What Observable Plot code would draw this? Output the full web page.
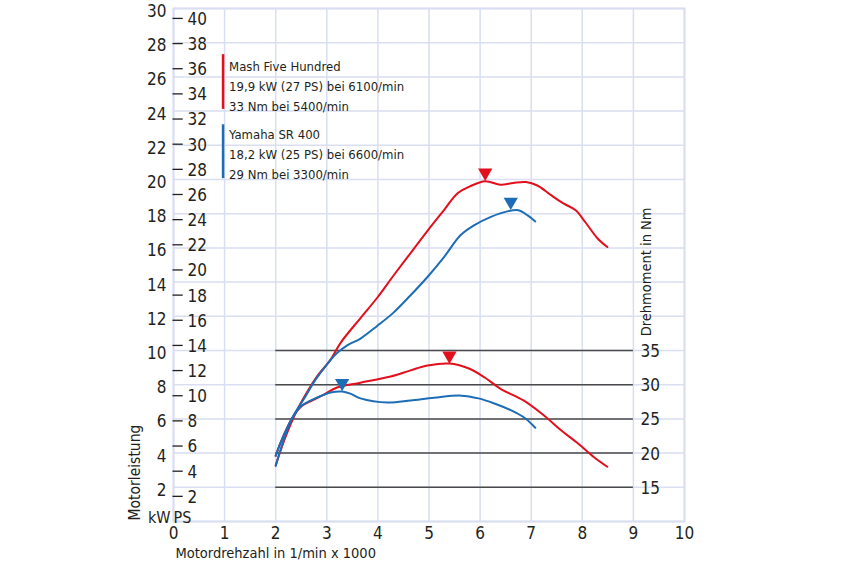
<!DOCTYPE html>
<html>
<head>
<meta charset="utf-8">
<script src="https://cdn.jsdelivr.net/npm/d3@7"></script>
<script src="https://cdn.jsdelivr.net/npm/@observablehq/plot@0.6"></script>
<style>
html, body { margin: 0; padding: 0; background: #ffffff; }
#chart svg { display: block; }
</style>
</head>
<body>
<div id="chart"></div>
<script>
// ---- tick labels ----
const xTicks = [0, 1, 2, 3, 4, 5, 6, 7, 8, 9, 10];
const kwTicks = [2, 4, 6, 8, 10, 12, 14, 16, 18, 20, 22, 24, 26, 28, 30];
const kwGrid = [0, 2, 4, 6, 8, 10, 12, 14, 16, 18, 20, 22, 24, 26, 28, 30];
const psTicks = [2, 4, 6, 8, 10, 12, 14, 16, 18, 20, 22, 24, 26, 28, 30, 32, 34, 36, 38, 40];
const nmTicks = [15, 20, 25, 30, 35];

// ---- texts ----
const xTitle = "Motordrehzahl in 1/min x 1000";
const yTitle = "Motorleistung";
const y2Title = "Drehmoment in Nm";
const mashLegend = ["Mash Five Hundred", "19,9 kW (27 PS) bei 6100/min", "33 Nm bei 5400/min"];
const yamahaLegend = ["Yamaha SR 400", "18,2 kW (25 PS) bei 6600/min", "29 Nm bei 3300/min"];

// ---- series (rpm in 1000/min) ----
const mashPowerRpm = [2.0, 2.2, 2.4, 2.6, 2.8, 3.07, 3.27, 3.66, 3.99, 4.31, 4.64, 4.97, 5.29, 5.56, 5.80, 6.1, 6.4, 6.65, 6.9, 7.12, 7.38, 7.63, 7.87, 8.06, 8.30, 8.49];
const mashPowerKw  = [3.3, 5.0, 6.4, 7.5, 8.45, 9.45, 10.45, 11.9, 13.1, 14.4, 15.7, 17.0, 18.2, 19.2, 19.6, 19.9, 19.7, 19.8, 19.85, 19.65, 19.1, 18.6, 18.2, 17.5, 16.55, 16.05];

const yamahaPowerRpm = [2.0, 2.17, 2.33, 2.57, 2.77, 3.02, 3.2, 3.4, 3.66, 3.99, 4.3, 4.63, 4.97, 5.29, 5.62, 5.87, 6.2, 6.55, 6.75, 6.93, 7.08];
const yamahaPowerKw  = [3.25, 4.9, 6.1, 7.25, 8.25, 9.25, 9.85, 10.3, 10.7, 11.45, 12.2, 13.2, 14.3, 15.45, 16.75, 17.3, 17.8, 18.15, 18.2, 17.9, 17.55];

const mashTorqueRpm = [2.0, 2.11, 2.33, 2.51, 2.72, 2.95, 3.2, 3.66, 4.25, 4.64, 4.97, 5.4, 5.77, 6.09, 6.4, 6.85, 7.25, 7.59, 7.9, 8.23, 8.49];
const mashTorqueNm  = [19.6, 21.8, 25.2, 26.9, 27.7, 28.6, 29.6, 30.3, 31.2, 32.1, 32.8, 33.1, 32.4, 31.05, 29.4, 27.7, 25.5, 23.3, 21.5, 19.4, 18.0];

const yamahaTorqueRpm = [2.0, 2.11, 2.33, 2.51, 2.77, 3.1, 3.3, 3.46, 3.66, 4.19, 4.64, 5.1, 5.63, 5.97, 6.28, 6.62, 6.88, 7.08];
const yamahaTorqueNm  = [19.6, 21.8, 25.2, 26.95, 28.0, 28.9, 29.0, 28.7, 28.0, 27.4, 27.7, 28.1, 28.4, 28.0, 27.25, 26.2, 25.1, 23.7];

// ---- peak markers ----
const peakRpm   = [6.1, 6.6, 5.4, 3.3];
const peakValue = [19.9, 18.2, 33, 29];
const peakKind  = ["kW", "kW", "Nm", "Nm"];
const peakBike  = ["Mash", "Yamaha", "Mash", "Yamaha"];

// ---- helpers ----
const RED = "#e20f1c";
const BLUE = "#1c6db5";
const GRID = "#d9def1";
const INK = "#231f20";
const PS_TO_KW = 0.7355;
const nmToY = nm => (nm - 10) / 2.5;   // torque scale shares the kW frame

const zip = (xs, ys) => xs.map((x, i) => ({x, y: ys[i]}));
const mashP = zip(mashPowerRpm, mashPowerKw);
const yamP = zip(yamahaPowerRpm, yamahaPowerKw);
const mashT = zip(mashTorqueRpm, mashTorqueNm.map(nmToY));
const yamT = zip(yamahaTorqueRpm, yamahaTorqueNm.map(nmToY));
const peaks = peakRpm.map((x, i) => ({
  x, y: peakKind[i] === "Nm" ? nmToY(peakValue[i]) : peakValue[i],
  bike: peakBike[i]
}));

const chart = Plot.plot({
  width: 850,
  height: 566,
  marginLeft: 173,
  marginRight: 166,
  marginTop: 8,
  marginBottom: 45,
  x: {domain: [0, 10], axis: null},
  y: {domain: [0, 30], axis: null},
  style: {fontFamily: '"DejaVu Sans Condensed", "Liberation Sans Narrow", sans-serif', fontSize: "17px", color: INK, background: "#fff"},
  marks: [
    // grid
    Plot.ruleX(xTicks, {x: d => d, y1: 0, y2: 30, stroke: GRID, strokeWidth: 1.5}),
    Plot.ruleY(kwGrid, {y: d => d, x1: 0, x2: 10, stroke: GRID, strokeWidth: 1.5}),
    Plot.frame({stroke: GRID, strokeWidth: 2}),

    // torque reference lines
    Plot.ruleY(nmTicks, {y: nmToY, x1: 2, x2: 9, stroke: "#4a4a4a", strokeWidth: 1.5}),
    Plot.text(nmTicks, {x: 9, y: nmToY, text: d => String(d), dx: 7, dy: 1, textAnchor: "start", fill: INK}),
    Plot.text([y2Title], {x: 9, y: 14.6, dx: 13, rotate: -90, fontSize: 14.5, fill: INK}),

    // left axes
    Plot.text(kwTicks, {x: 0, y: d => d, text: d => String(d), dx: -7, dy: 3, textAnchor: "end", fill: INK}),
    Plot.ruleY(psTicks, {y: d => d * PS_TO_KW, x1: -0.01, x2: 0.19, stroke: INK, strokeWidth: 1.3}),
    Plot.text(psTicks, {x: 0, y: d => d * PS_TO_KW, text: d => String(d), dx: 14, dy: 1, textAnchor: "start", fill: INK}),
    Plot.text(["kW"], {x: 0, y: 0, dx: -3, dy: -4, textAnchor: "end", fontSize: 16, fill: INK}),
    Plot.text(["PS"], {x: 0, y: 0, dx: 0, dy: -4, textAnchor: "start", fontSize: 16, fill: INK}),
    Plot.text([yTitle], {x: 0, y: 0, dx: -38, dy: -1, rotate: -90, textAnchor: "start", fontSize: 15.5, fill: INK}),

    // bottom axis
    Plot.text(xTicks, {x: d => d, y: 0, text: d => String(d), dy: 12, fill: INK}),
    Plot.text([xTitle], {x: 0, y: 0, dx: 2, dy: 32, textAnchor: "start", fontSize: 14.5, fill: INK}),

    // legend
    Plot.ruleX([0.97], {x: d => d, y1: 24.1, y2: 27.3, stroke: RED, strokeWidth: 2.5}),
    Plot.ruleX([0.97], {x: d => d, y1: 20.05, y2: 23.2, stroke: BLUE, strokeWidth: 2.5}),
    Plot.text([mashLegend.join("\n")], {x: 0.97, y: 27.15, dx: 6, textAnchor: "start", lineAnchor: "top", lineHeight: 1.54, fontSize: 13, fill: INK}),
    Plot.text([yamahaLegend.join("\n")], {x: 0.97, y: 23.2, dx: 6, textAnchor: "start", lineAnchor: "top", lineHeight: 1.54, fontSize: 13, fill: INK}),

    // curves
    Plot.line(mashP, {x: "x", y: "y", stroke: RED, strokeWidth: 2, curve: "catmull-rom"}),
    Plot.line(mashT, {x: "x", y: "y", stroke: RED, strokeWidth: 2, curve: "catmull-rom"}),
    Plot.line(yamP, {x: "x", y: "y", stroke: BLUE, strokeWidth: 2, curve: "catmull-rom"}),
    Plot.line(yamT, {x: "x", y: "y", stroke: BLUE, strokeWidth: 2, curve: "catmull-rom"}),

    // peak markers
    Plot.dot(peaks, {x: "x", y: "y", symbol: "triangle", rotate: 180, r: 5.3, dy: -8.5,
      fill: d => d.bike === "Mash" ? RED : BLUE, stroke: "none"})
  ]
});

document.getElementById("chart").appendChild(chart);
</script>
</body>
</html>
